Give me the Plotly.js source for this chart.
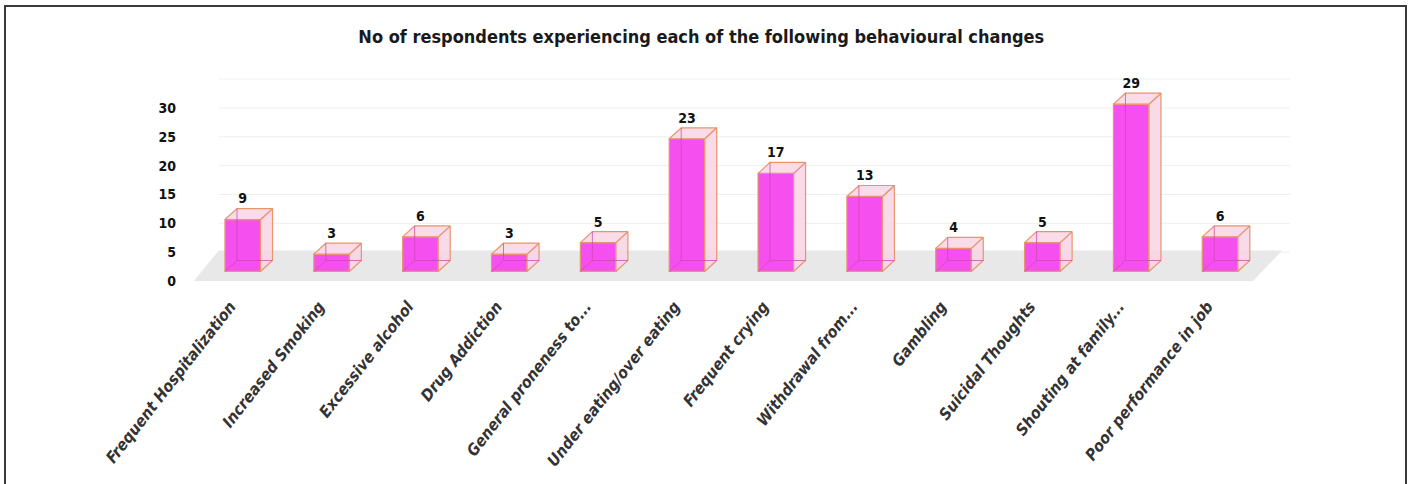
<!DOCTYPE html>
<html>
<head>
<meta charset="utf-8">
<script src="https://cdn.plot.ly/plotly-3.0.1.min.js"></script>
<style>
  html, body { margin:0; padding:0; background:#fff; }
  #wrap { position:relative; width:1411px; height:484px; overflow:hidden; }
  #chart { position:absolute; left:0; top:0; width:1411px; height:484px; }
  #frame { position:absolute; left:4px; top:5px; width:1403px; height:500px; border:2px solid #3a3a3a; box-sizing:border-box; pointer-events:none; }
</style>
</head>
<body>
<div id="wrap"><div id="chart"></div><div id="frame"></div></div>
<script>
// ---- data ----
const categories = [
  "Frequent Hospitalization", "Increased Smoking", "Excessive alcohol", "Drug Addiction",
  "General proneness to...", "Under eating/over eating", "Frequent crying", "Withdrawal from...",
  "Gambling", "Suicidal Thoughts", "Shouting at family...", "Poor performance in job"
];
const respondents = [9, 3, 6, 3, 5, 23, 17, 13, 4, 5, 29, 6];
const yTickValues = [0, 5, 10, 15, 20, 25, 30];
const gridLevels = [5, 10, 15, 20, 25, 30, 35];

// ---- pseudo-3D geometry (in axis units) ----
const W = 0.4;      // front face width
const DX = 0.135;   // depth offset x
const DY = 1.9;     // depth offset y
const n = categories.length;
const idx = categories.map((_, i) => i);

const FONT_C = "DejaVu Sans Condensed, DejaVu Sans, sans-serif";
const EDGE = "#e8946c";

// floor (on label axis y)
const floorX = [-0.55, n - 1 + 0.37, n - 1 + 0.70, -0.27, -0.55];
const floorY = [0, 0, 5.3, 5.3, 0];

// back-wall grid lines (y)
const gx = [], gy = [];
gridLevels.forEach(l => { gx.push(-0.27, n - 1 + 0.79, null); gy.push(l, l, null); });

// side / top faces and hidden edges (on bar axis y2)
const sx = [], sy = [], tx = [], ty = [], hx = [], hy = [];
respondents.forEach((v, i) => {
  const L = i - W / 2, R = i + W / 2;
  sx.push(R, R + DX, R + DX, R, R, null);
  sy.push(0, DY, v + DY, v, 0, null);
  tx.push(L, L + DX, R + DX, R, L, null);
  ty.push(v, v + DY, v + DY, v, v, null);
  hx.push(L, L + DX, R + DX, null, L + DX, L + DX, null);
  hy.push(0, DY, DY, null, DY, v + DY, null);
});

const traces = [
  { type:"scatter", mode:"lines", x:gx, y:gy, line:{color:"#efefef", width:1}, hoverinfo:"skip", showlegend:false },
  { type:"scatter", mode:"lines", x:floorX, y:floorY, fill:"toself", fillcolor:"#e8e8e8", line:{width:0, color:"#e8e8e8"}, hoverinfo:"skip", showlegend:false },
  { type:"bar", x:idx, y:respondents, yaxis:"y2", width:W, marker:{color:"#f64ff0", line:{color:EDGE, width:1.2}}, hoverinfo:"y", showlegend:false },
  { type:"scatter", mode:"lines", x:sx, y:sy, yaxis:"y2", fill:"toself", fillcolor:"rgba(247,212,229,0.85)", line:{color:EDGE, width:1.2}, hoverinfo:"skip", showlegend:false },
  { type:"scatter", mode:"lines", x:tx, y:ty, yaxis:"y2", fill:"toself", fillcolor:"rgba(249,216,231,0.9)", line:{color:EDGE, width:1.2}, hoverinfo:"skip", showlegend:false },
  { type:"scatter", mode:"lines", x:hx, y:hy, yaxis:"y2", line:{color:"rgba(205,70,175,0.75)", width:1}, hoverinfo:"skip", showlegend:false },
  { type:"scatter", mode:"text", x:idx, y:respondents.map(v => v + DY + 1.5), yaxis:"y2", text:respondents.map(String),
    textposition:"middle center", textfont:{family:FONT_C, size:14, weight:"bold", color:"#111"}, hoverinfo:"skip", showlegend:false }
];

const layout = {
  width:1411, height:484,
  margin:{l:185, r:111, t:70, b:201, pad:0},
  paper_bgcolor:"#ffffff", plot_bgcolor:"rgba(0,0,0,0)",
  showlegend:false,
  title:{ text:"No of respondents experiencing each of the following behavioural changes",
          font:{family:FONT_C, size:18, weight:"bold", color:"#1a1a1a"},
          x:0.497, xanchor:"center", y:1 - 37/484, yanchor:"middle", yref:"container" },
  xaxis:{ range:[-0.65, 11.9], tickmode:"array", tickvals:idx.map(i => i - 0.14), ticktext:categories, tickangle:-52,
          showgrid:false, zeroline:false, showline:false, ticks:"", ticklabelstandoff:10,
          tickfont:{family:FONT_C, size:16, style:"italic", weight:"bold", color:"#333"} },
  yaxis:{ range:[-0.35, 36.57], tickmode:"array", tickvals:yTickValues,
          showgrid:false, zeroline:false, showline:false, ticks:"", ticklabelstandoff:8,
          tickfont:{family:FONT_C, size:14, weight:"bold", color:"#111"} },
  yaxis2:{ range:[-2.0, 34.92], overlaying:"y", side:"left", anchor:"x", visible:false,
           showgrid:false, zeroline:false, showticklabels:false },
  bargap:0
};

Plotly.newPlot("chart", traces, layout, {displayModeBar:false, staticPlot:true});
</script>
</body>
</html>
